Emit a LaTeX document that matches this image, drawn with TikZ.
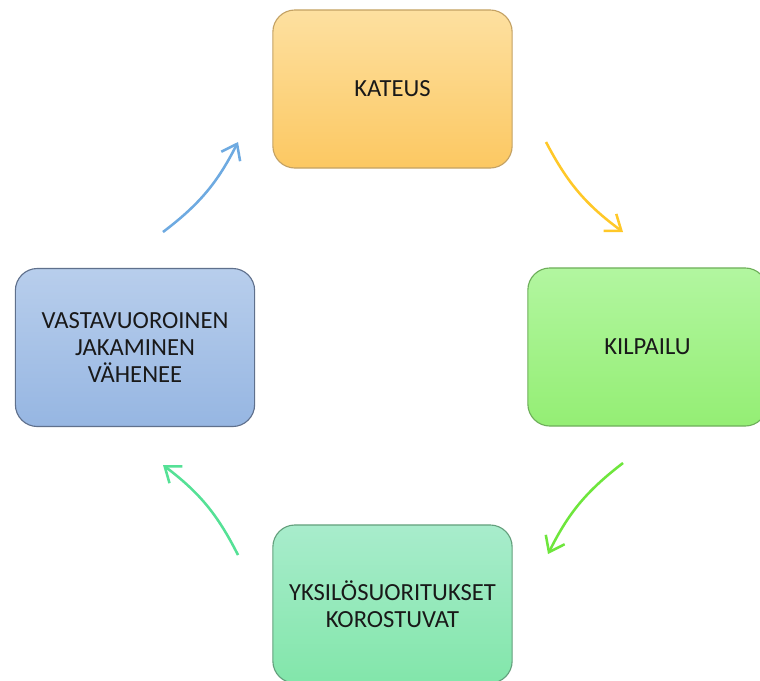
\documentclass[tikz,border=0pt]{standalone}
\usepackage{fontspec}
\setmainfont{Carlito}
\usetikzlibrary{arrows.meta, positioning}
\definecolor{textgray}{RGB}{25,25,25}
\definecolor{kateusTop}{RGB}{253,224,160}
\definecolor{kateusBot}{RGB}{252,200,98}
\definecolor{kateusLine}{RGB}{196,162,100}
\definecolor{kilpTop}{RGB}{178,246,160}
\definecolor{kilpBot}{RGB}{148,238,116}
\definecolor{kilpLine}{RGB}{110,175,90}
\definecolor{yksTop}{RGB}{168,236,204}
\definecolor{yksBot}{RGB}{130,230,170}
\definecolor{yksLine}{RGB}{100,160,125}
\definecolor{vastTop}{RGB}{184,206,236}
\definecolor{vastBot}{RGB}{150,182,226}
\definecolor{vastLine}{RGB}{95,112,140}
\definecolor{arrOrange}{RGB}{255,200,40}
\definecolor{arrGreen}{RGB}{110,230,60}
\definecolor{arrTeal}{RGB}{85,225,150}
\definecolor{arrBlue}{RGB}{110,170,225}

\begin{document}
\begin{tikzpicture}[x=0.025cm,y=-0.025cm,
    box/.style={rounded corners=0.55cm, minimum width=5.98cm, minimum height=3.95cm,
      align=center, line width=0.8pt, text=textgray, font=\fontsize{17.5}{19}\selectfont},
    cycle/.style={line width=1.8pt, -{Straight Barb[length=10pt,width=15pt]}, bend right=13}]
      \fill[white] (0,0) rectangle (760,680);
      \clip (0,0) rectangle (760,680);
      % the four boxes
      \node[box, draw=kateusLine, top color=kateusTop, bottom color=kateusBot] (kateus) at (392.5,89){KATEUS};
      \node[box, draw=kilpLine, top color=kilpTop, bottom color=kilpBot] (kilpailu) at (647.5,347){KILPAILU};
      \node[box, draw=yksLine, top color=yksTop, bottom color=yksBot] (yksilo) at (392.5,604){YKSILÖSUORITUKSET\\KOROSTUVAT};
      \node[box, draw=vastLine, top color=vastTop, bottom color=vastBot] (vastavuoro) at (135,347.5){VASTAVUOROINEN\\JAKAMINEN\\VÄHENEE};
      % arrow ends
      \coordinate (k1) at (546,142);
      \coordinate (k2) at (623,232);
      \coordinate (p1) at (623,463);
      \coordinate (p2) at (548,554);
      \coordinate (y1) at (238,555);
      \coordinate (y2) at (163,465);
      \coordinate (v1) at (163,232);
      \coordinate (v2) at (238,142);
      \draw[cycle, arrOrange] (k1) to (k2);
      \draw[cycle, arrGreen] (p1) to (p2);
      \draw[cycle, arrTeal] (y1) to (y2);
      \draw[cycle, arrBlue] (v1) to (v2);
\end{tikzpicture}
\end{document}
